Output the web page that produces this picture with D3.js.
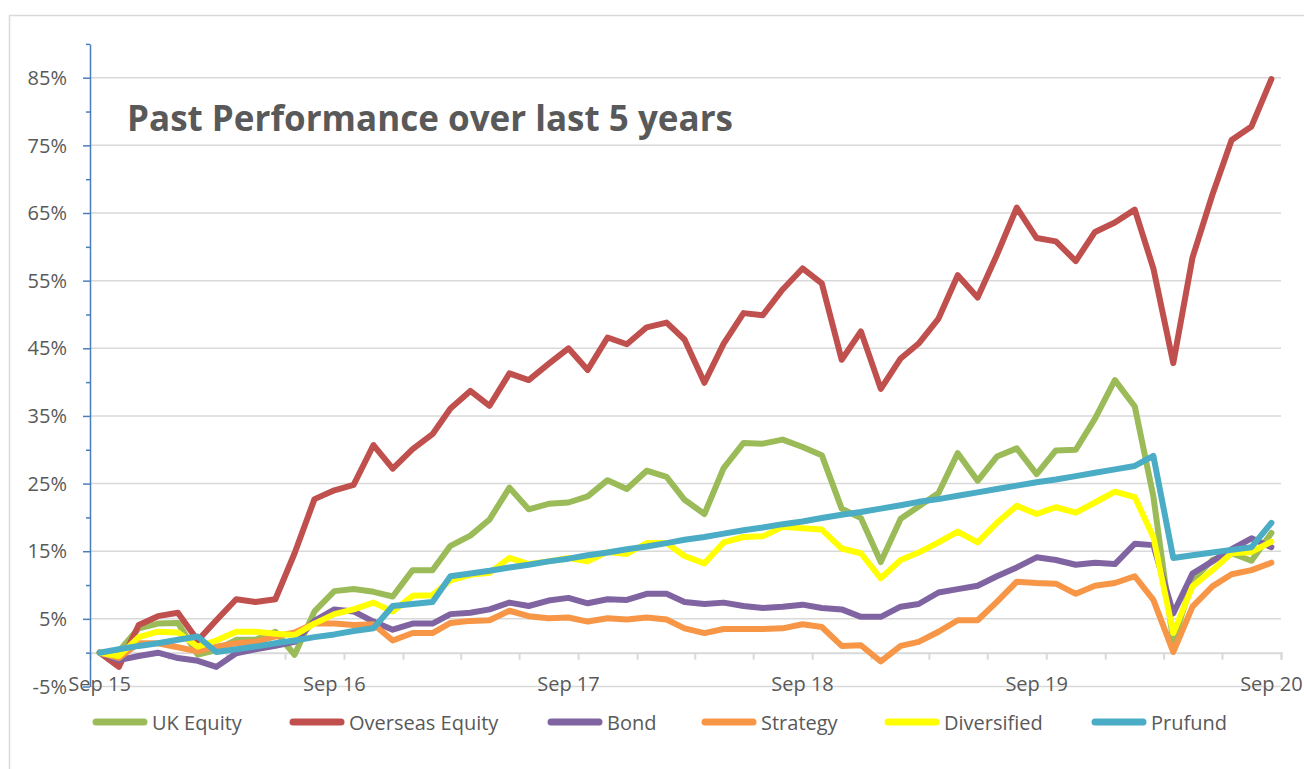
<!DOCTYPE html>
<html>
<head>
<meta charset="utf-8">
<script src="https://cdn.jsdelivr.net/npm/d3@7"></script>
<style>
  body { margin: 0; background: #fff; }
  text { font-family: "Open Sans", sans-serif; fill: #595959; }
</style>
</head>
<body>
<div id="chart"></div>
<script>
// monthly values, Sep 15 .. Sep 20 (61 points), % growth
var ukEquity = [0, 0.2, 3.6, 4.3, 4.4, -0.3, 0.4, 1.9, 1.9, 3.1, -0.3, 6.1, 9.1, 9.4, 9.0, 8.3, 12.2, 12.2, 15.8, 17.3, 19.7,
  24.4, 21.2, 22.0, 22.2, 23.1, 25.5, 24.2, 26.9, 26.0, 22.6, 20.5, 27.3, 31.0, 30.9, 31.5, 30.4, 29.2, 21.3, 19.9,
  13.4, 19.8, 21.6, 23.6, 29.5, 25.4, 29.0, 30.2, 26.4, 29.9, 30.0, 34.6, 40.3, 36.4, 23.1, 1.6, 10.7, 13.7, 14.7, 13.6, 17.7];
var overseasEquity = [0, -2.1, 4.1, 5.4, 5.9, 1.8, 4.8, 7.9, 7.5, 7.9, 14.7, 22.7, 24.0, 24.8, 30.7, 27.2, 30.1, 32.3, 36.1, 38.7, 36.5,
  41.3, 40.3, 42.7, 45.0, 41.8, 46.6, 45.6, 48.1, 48.8, 46.3, 39.9, 45.7, 50.2, 49.9, 53.7, 56.8, 54.6, 43.3, 47.5,
  39.0, 43.5, 45.7, 49.4, 55.8, 52.5, 58.8, 65.8, 61.3, 60.8, 57.9, 62.2, 63.6, 65.5, 56.8, 42.8, 58.4, 67.7, 75.8, 77.8, 84.8];
var bond = [0, -1.1, -0.5, 0, -0.8, -1.2, -2.1, -0.1, 0.5, 1.0, 1.6, 4.7, 6.4, 6.1, 4.6, 3.4, 4.3, 4.3, 5.7, 5.9, 6.4,
  7.4, 6.9, 7.7, 8.1, 7.3, 7.9, 7.8, 8.7, 8.7, 7.5, 7.2, 7.4, 6.9, 6.6, 6.8, 7.1, 6.6, 6.4, 5.3,
  5.3, 6.8, 7.2, 8.9, 9.4, 9.9, 11.3, 12.6, 14.1, 13.7, 13.0, 13.3, 13.1, 16.1, 15.9, 5.8, 11.7, 13.5, 15.3, 16.9, 15.6];
var strategy = [0, -0.8, 1.4, 1.4, 0.8, 0.2, 0.9, 1.4, 1.6, 2.4, 3.0, 4.3, 4.3, 4.1, 4.2, 1.8, 2.9, 2.9, 4.4, 4.7, 4.8,
  6.2, 5.4, 5.1, 5.2, 4.6, 5.1, 4.9, 5.2, 4.9, 3.6, 2.9, 3.5, 3.5, 3.5, 3.6, 4.2, 3.8, 1.0, 1.1,
  -1.3, 1.0, 1.6, 3.1, 4.8, 4.8, 7.5, 10.5, 10.3, 10.2, 8.7, 9.9, 10.3, 11.3, 7.8, 0.1, 6.8, 9.8, 11.6, 12.2, 13.3];
var diversified = [0, -0.5, 2.3, 3.1, 3.0, 0.9, 1.8, 3.1, 3.1, 2.8, 2.6, 4.3, 5.7, 6.4, 7.4, 6.1, 8.4, 8.5, 10.7, 11.5, 11.8,
  14.0, 13.1, 13.5, 14.0, 13.5, 14.9, 14.6, 16.2, 16.2, 14.3, 13.2, 16.3, 17.1, 17.2, 18.6, 18.4, 18.2, 15.4, 14.7,
  11.0, 13.7, 14.8, 16.3, 17.9, 16.3, 19.2, 21.7, 20.5, 21.5, 20.7, 22.2, 23.8, 23.0, 17.1, 2.9, 9.8, 12.2, 14.7, 14.9, 16.4];
var prufund = [0, 0.5, 1.0, 1.4, 1.9, 2.4, 0.1, 0.5, 0.9, 1.4, 1.8, 2.3, 2.7, 3.2, 3.6, 6.9, 7.2, 7.5, 11.3, 11.7, 12.1,
  12.6, 13.0, 13.5, 13.9, 14.4, 14.8, 15.3, 15.7, 16.2, 16.7, 17.1, 17.6, 18.1, 18.5, 19.0, 19.4, 19.9, 20.4, 20.8,
  21.3, 21.8, 22.3, 22.7, 23.2, 23.7, 24.2, 24.7, 25.2, 25.6, 26.1, 26.6, 27.1, 27.6, 29.1, 14.0, 14.4, 14.8, 15.2, 15.6, 19.2];

var seriesNames = ["UK Equity", "Overseas Equity", "Bond", "Strategy", "Diversified", "Prufund"];
var seriesColors = ["#9BBB59", "#C0504D", "#8064A2", "#F79646", "#FFFF00", "#4BACC6"];
var seriesValues = [ukEquity, overseasEquity, bond, strategy, diversified, prufund];

var yTickValues = [-5, 5, 15, 25, 35, 45, 55, 65, 75, 85];
var xTickLabels = ["Sep 15", "Sep 16", "Sep 17", "Sep 18", "Sep 19", "Sep 20"];
var title = "Past Performance over last 5 years";

var width = 1304, height = 769;

// one point per month, plotted mid-month like the excel date axis
var months = d3.timeMonth.range(new Date(2015, 8, 1), new Date(2020, 9, 1));
var pointDate = function(m) { return new Date(m.getFullYear(), m.getMonth(), 16); };

var x = d3.scaleTime()
  .domain([new Date(2015, 8, 1), new Date(2020, 9, 1)])
  .range([90, 1281]);

var y = d3.scaleLinear()
  .domain([-5, 90])
  .range([686.5, 43.9]);

var svg = d3.select("#chart").append("svg")
  .attr("width", width)
  .attr("height", height);

// chart border
svg.append("rect")
  .attr("x", 9.5).attr("y", 15.5)
  .attr("width", 1400).attr("height", 800)
  .attr("fill", "none")
  .attr("stroke", "#d9d9d9")
  .attr("stroke-width", 1.5);

// gridlines
svg.append("g").selectAll("line")
  .data(yTickValues)
  .enter().append("line")
  .attr("x1", 90).attr("x2", 1281)
  .attr("y1", function(d) { return y(d); })
  .attr("y2", function(d) { return y(d); })
  .attr("stroke", "#d9d9d9")
  .attr("stroke-width", 1.5);

// x axis at 0%
var xAxis = d3.axisBottom(x)
  .ticks(d3.timeMonth.every(3))
  .tickSize(7)
  .tickFormat("");
var gx = svg.append("g")
  .attr("transform", "translate(0," + y(0) + ")")
  .call(xAxis);
gx.select(".domain").attr("stroke", "#d9d9d9").attr("stroke-width", 2);
gx.selectAll(".tick line").attr("stroke", "#d9d9d9").attr("stroke-width", 2);

svg.append("g").selectAll("text")
  .data(xTickLabels)
  .enter().append("text")
  .attr("x", function(d, i) { return x(new Date(2015 + i, 8, 16)); })
  .attr("y", 691)
  .attr("text-anchor", "middle")
  .attr("font-size", "20px")
  .text(function(d) { return d; });

// y axis
var yAxis = d3.axisLeft(y)
  .tickValues(d3.range(-5, 91, 5))
  .tickSize(0)
  .tickFormat("");
var gy = svg.append("g")
  .attr("transform", "translate(90,0)")
  .call(yAxis);
gy.select(".domain").attr("stroke", "#4a7ebb").attr("stroke-width", 1.5);
gy.selectAll(".tick line")
  .attr("x2", function(d) { return yTickValues.indexOf(d) >= 0 ? -7 : -4; })
  .attr("stroke", "#4a7ebb")
  .attr("stroke-width", 1.5);

svg.append("g").selectAll("text")
  .data(yTickValues)
  .enter().append("text")
  .attr("x", 67)
  .attr("y", function(d) { return y(d); })
  .attr("dy", "0.36em")
  .attr("text-anchor", "end")
  .attr("font-size", "20px")
  .text(function(d) { return d + "%"; });

// series lines
var line = d3.line()
  .x(function(d, i) { return x(pointDate(months[i])); })
  .y(function(d) { return y(d); });

svg.append("g").selectAll("path")
  .data(seriesValues)
  .enter().append("path")
  .attr("d", line)
  .attr("fill", "none")
  .attr("stroke", function(d, i) { return seriesColors[i]; })
  .attr("stroke-width", 6)
  .attr("stroke-linejoin", "round")
  .attr("stroke-linecap", "round");

// title
svg.append("text")
  .attr("x", 127)
  .attr("y", 131)
  .attr("font-family", "Lato, sans-serif")
  .attr("font-weight", "bold")
  .attr("font-size", "36px")
  .attr("textLength", 606)
  .attr("lengthAdjust", "spacingAndGlyphs")
  .text(title);

// legend
var legendX = [93, 290, 548, 702, 885, 1092];
var legend = svg.append("g").selectAll("g")
  .data(seriesNames)
  .enter().append("g")
  .attr("transform", function(d, i) { return "translate(" + legendX[i] + ",722)"; });

legend.append("line")
  .attr("x1", 3).attr("x2", 51)
  .attr("stroke", function(d, i) { return seriesColors[i]; })
  .attr("stroke-width", 7)
  .attr("stroke-linecap", "round");

legend.append("text")
  .attr("x", 59)
  .attr("y", 8)
  .attr("font-size", "20px")
  .text(function(d) { return d; });
</script>
</body>
</html>
